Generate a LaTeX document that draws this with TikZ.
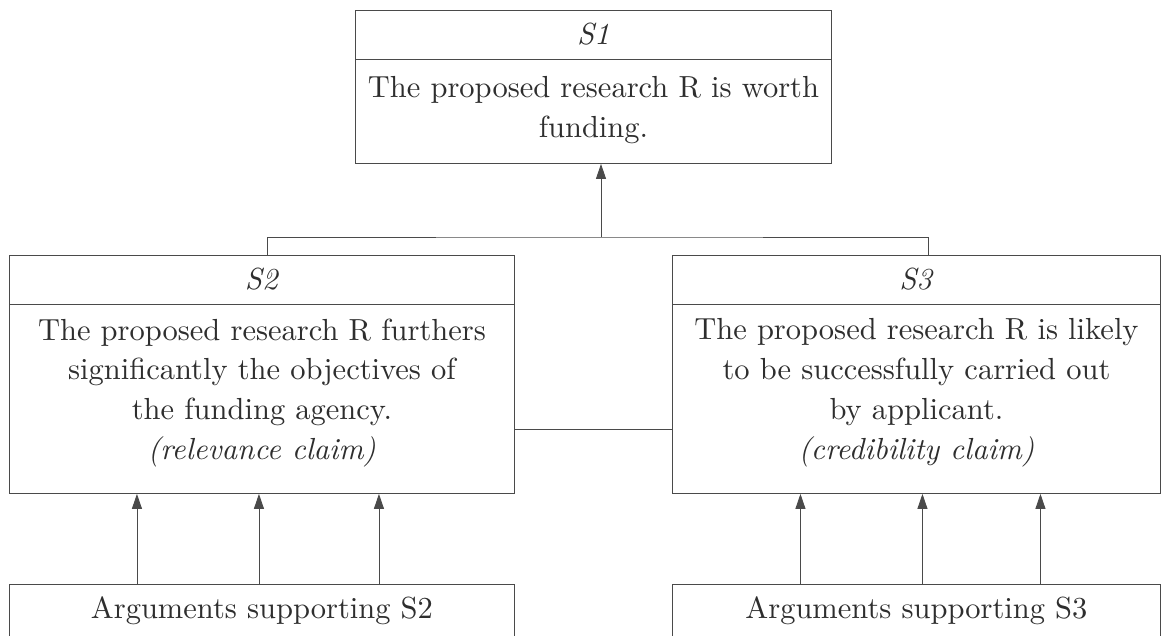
\documentclass[tikz,border=0pt]{standalone}
\usepackage{tikz}
\usetikzlibrary{arrows.meta}
\usepackage{xcolor}
\definecolor{inkgray}{HTML}{4A4A4A}
\definecolor{textgray}{HTML}{2E2E2E}

\begin{document}
\begin{tikzpicture}[x=1pt,y=1pt,>={Triangle[length=15pt,width=10pt]},line width=0.9pt,color=inkgray,
  box/.style={draw,anchor=north west,inner sep=0pt},
  txt/.style={align=center,inner sep=0pt,text=textgray,scale=3.05,font=\fontsize{10}{13.1}\selectfont}]
\useasboundingbox (0,0) rectangle (1162,-636);
\clip (0,0) rectangle (1162,-636);
\node[box,minimum width=476pt,minimum height=153pt] (s1) at (355,-10) {};
\node[box,minimum width=505pt,minimum height=238pt] (s2) at (9,-255) {};
\node[box,minimum width=488pt,minimum height=238pt] (s3) at (672,-255) {};
\node[box,minimum width=505pt,minimum height=80pt] (a2) at (9,-584) {};
\node[box,minimum width=488pt,minimum height=80pt] (a3) at (672,-584) {};
% header rows
\foreach \b/\lab in {s1/S1,s2/S2,s3/S3}{
  \draw ([yshift=-49pt]\b.north west) -- ([yshift=-49pt]\b.north east);
  \node[txt] (\b head) at ([yshift=-24pt]\b.north) {\textit{\lab}};
}
\node[txt] (s1 text) at ([yshift=-100pt]s1.north) {The proposed research R is worth\\funding.};
\node[txt] (s2 text) at ([yshift=-138pt]s2.north) {The proposed research R furthers\\significantly the objectives of\\the funding agency.\\\textit{(relevance claim)}};
\node[txt] (s3 text) at ([yshift=-138pt]s3.north) {The proposed research R is likely\\to be successfully carried out\\by applicant.\\\textit{(credibility claim)}};
\node[txt] (a2 text) at ([yshift=-27pt]a2.north) {Arguments supporting S2};
\node[txt] (a3 text) at ([yshift=-27pt]a3.north) {Arguments supporting S3};
% connectors
\coordinate (join) at (601,-237);
\draw ([xshift=5pt]s2.north) |- (join) -| ([xshift=12pt]s3.north);
\draw[->] (join) -- (join |- s1.south);
\draw ([yshift=-55pt]s2.east) -- ([yshift=-55pt]s3.west);
\foreach \dx in {-125,-3,117} \draw[->] ([xshift=\dx pt]a2.north) -- ([xshift=\dx pt]s2.south);
\foreach \dx in {-116,6,124} \draw[->] ([xshift=\dx pt]a3.north) -- ([xshift=\dx pt]s3.south);
\end{tikzpicture}
\end{document}
